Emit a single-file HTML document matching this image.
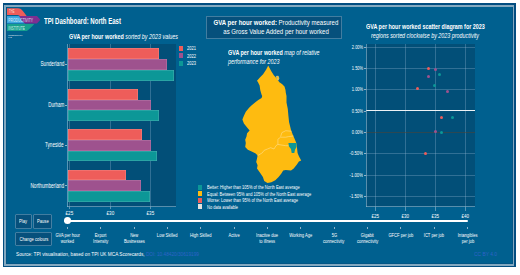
<!DOCTYPE html>
<html><head><meta charset="utf-8"><style>
html,body{margin:0;padding:0;width:520px;height:275px;overflow:hidden;background:#fff}
body{position:relative;font-family:"Liberation Sans",sans-serif}
div{position:absolute;box-sizing:border-box}
.t{white-space:nowrap}
</style></head><body>
<div style="left:3.00px;top:2.70px;width:513.00px;height:264.70px;background:#024d80;"></div>
<div style="left:4.00px;top:4.80px;width:510.00px;height:260.90px;background:#84a9c0;"></div>
<div style="left:5.90px;top:6.70px;width:506.80px;height:257.30px;background:#035685;"></div>
<div style="left:6.70px;top:7.40px;width:505.20px;height:255.90px;background:#00608f;"></div>
<svg style="position:absolute;left:0;top:0" width="60" height="45" viewBox="0 0 60 45">
<path d="M7 8.2 H18 C21.5 8.2 23.5 11.5 26.8 16.2 H20 C19 15.4 18 15.1 16.5 15.1 H7 Z" fill="#ef5d5a"/>
<rect x="7" y="16.1" width="18" height="7.3" fill="#3ea8e0"/>
<path d="M19 16.1 H37 L40.4 19.75 L37 23.4 H25.5 C23.5 23.4 21.5 20 19 16.1 Z" fill="#7d2f91"/>
<path d="M7 24 H34.2 C32 26.5 29.5 29.5 26.8 30.9 H7 Z" fill="#16a08e"/>
<text x="9" y="13.4" font-size="4.6" fill="#ffe3de" opacity="0.85" font-family="Liberation Sans" textLength="5.5" lengthAdjust="spacingAndGlyphs">THE</text>
<text x="8.3" y="21.7" font-size="4.6" fill="#eaf6ff" opacity="0.85" font-family="Liberation Sans" textLength="24.7" lengthAdjust="spacingAndGlyphs">PRODUCTIVITY</text>
<text x="8.3" y="29.5" font-size="4.6" fill="#e0fff6" opacity="0.85" font-family="Liberation Sans" textLength="16.7" lengthAdjust="spacingAndGlyphs">INSTITUTE</text>
<text x="8.3" y="35.8" font-size="2.0" fill="#ffffff" font-family="Liberation Sans" textLength="14.5" lengthAdjust="spacingAndGlyphs">PRODUCTIVITY</text>
<text x="8.3" y="38.4" font-size="1.7" fill="#ffffff" font-family="Liberation Sans" textLength="3.6" lengthAdjust="spacingAndGlyphs">LAB</text>
</svg>
<div class="t" style="left:44.30px;top:16.67px;font-size:9.012px;line-height:9.012px;color:#fff;transform:scaleX(0.6715);transform-origin:left top"><span style="font-weight:bold;font-style:normal;">TPI Dashboard: North East</span></div>
<div class="t" style="left:68.80px;top:33.10px;font-size:7.558px;line-height:7.558px;color:#fff;transform:scaleX(0.7142);transform-origin:left top"><span style="font-weight:bold;font-style:normal;">GVA per hour worked</span><span style="font-weight:normal;font-style:italic;"> sorted by 2023 values</span></div>
<div style="left:67.50px;top:44.00px;width:108.90px;height:162.80px;background:#024f78;"></div>
<div style="left:69.35px;top:44.00px;width:0.80px;height:162.80px;background:rgba(150,185,210,0.32);"></div>
<div style="left:109.50px;top:44.00px;width:0.80px;height:162.80px;background:rgba(150,185,210,0.32);"></div>
<div style="left:149.90px;top:44.00px;width:0.80px;height:162.80px;background:rgba(150,185,210,0.32);"></div>
<div style="left:68.00px;top:48.30px;width:91.10px;height:10.75px;background:#ee5d5a;box-shadow:inset 0 0 0 0.5px rgba(255,255,255,0.25);"></div>
<div style="left:68.00px;top:59.05px;width:98.80px;height:10.75px;background:#9e528e;box-shadow:inset 0 0 0 0.5px rgba(255,255,255,0.25);"></div>
<div style="left:68.00px;top:69.80px;width:105.80px;height:10.75px;background:#0c9797;box-shadow:inset 0 0 0 0.5px rgba(255,255,255,0.25);"></div>
<div style="left:64.60px;top:64.05px;width:2.90px;height:0.70px;background:#8fb2c9;"></div>
<div class="t" style="left:27.57px;top:61.37px;font-size:7.122px;line-height:7.122px;color:#fff;transform:scaleX(0.6587);transform-origin:right top"><span style="font-weight:normal;font-style:normal;">Sunderland</span></div>
<div style="left:68.00px;top:88.80px;width:69.50px;height:10.75px;background:#ee5d5a;box-shadow:inset 0 0 0 0.5px rgba(255,255,255,0.25);"></div>
<div style="left:68.00px;top:99.55px;width:83.00px;height:10.75px;background:#9e528e;box-shadow:inset 0 0 0 0.5px rgba(255,255,255,0.25);"></div>
<div style="left:68.00px;top:110.30px;width:91.00px;height:10.75px;background:#0c9797;box-shadow:inset 0 0 0 0.5px rgba(255,255,255,0.25);"></div>
<div style="left:64.60px;top:104.55px;width:2.90px;height:0.70px;background:#8fb2c9;"></div>
<div class="t" style="left:38.67px;top:101.87px;font-size:7.122px;line-height:7.122px;color:#fff;transform:scaleX(0.6316);transform-origin:right top"><span style="font-weight:normal;font-style:normal;">Durham</span></div>
<div style="left:68.00px;top:129.10px;width:73.70px;height:10.75px;background:#ee5d5a;box-shadow:inset 0 0 0 0.5px rgba(255,255,255,0.25);"></div>
<div style="left:68.00px;top:139.85px;width:82.80px;height:10.75px;background:#9e528e;box-shadow:inset 0 0 0 0.5px rgba(255,255,255,0.25);"></div>
<div style="left:68.00px;top:150.60px;width:88.90px;height:10.75px;background:#0c9797;box-shadow:inset 0 0 0 0.5px rgba(255,255,255,0.25);"></div>
<div style="left:64.60px;top:144.85px;width:2.90px;height:0.70px;background:#8fb2c9;"></div>
<div class="t" style="left:35.49px;top:142.17px;font-size:7.122px;line-height:7.122px;color:#fff;transform:scaleX(0.6490);transform-origin:right top"><span style="font-weight:normal;font-style:normal;">Tyneside</span></div>
<div style="left:68.00px;top:169.60px;width:58.00px;height:10.75px;background:#ee5d5a;box-shadow:inset 0 0 0 0.5px rgba(255,255,255,0.25);"></div>
<div style="left:68.00px;top:180.35px;width:72.90px;height:10.75px;background:#9e528e;box-shadow:inset 0 0 0 0.5px rgba(255,255,255,0.25);"></div>
<div style="left:68.00px;top:191.10px;width:81.80px;height:10.75px;background:#0c9797;box-shadow:inset 0 0 0 0.5px rgba(255,255,255,0.25);"></div>
<div style="left:64.60px;top:185.35px;width:2.90px;height:0.70px;background:#8fb2c9;"></div>
<div class="t" style="left:12.93px;top:182.67px;font-size:7.122px;line-height:7.122px;color:#fff;transform:scaleX(0.6579);transform-origin:right top"><span style="font-weight:normal;font-style:normal;">Northumberland</span></div>
<div style="left:67.00px;top:44.00px;width:1.00px;height:163.30px;background:rgba(160,195,215,0.55);"></div>
<div style="left:67.00px;top:206.30px;width:109.40px;height:1.00px;background:rgba(160,195,215,0.55);"></div>
<div style="left:69.40px;top:207.30px;width:0.70px;height:2.10px;background:rgba(160,195,215,0.55);"></div>
<div class="t" style="left:65.38px;top:211.37px;font-size:5.233px;line-height:5.233px;color:#fff;transform:scaleX(0.8820);transform-origin:center top"><span style="font-weight:normal;font-style:normal;">£25</span></div>
<div style="left:109.55px;top:207.30px;width:0.70px;height:2.10px;background:rgba(160,195,215,0.55);"></div>
<div class="t" style="left:105.53px;top:211.37px;font-size:5.233px;line-height:5.233px;color:#fff;transform:scaleX(0.8820);transform-origin:center top"><span style="font-weight:normal;font-style:normal;">£30</span></div>
<div style="left:149.95px;top:207.30px;width:0.70px;height:2.10px;background:rgba(160,195,215,0.55);"></div>
<div class="t" style="left:145.93px;top:211.37px;font-size:5.233px;line-height:5.233px;color:#fff;transform:scaleX(0.8820);transform-origin:center top"><span style="font-weight:normal;font-style:normal;">£35</span></div>
<div style="left:178.50px;top:45.70px;width:4.50px;height:5.00px;background:#ee5d5a;"></div>
<div class="t" style="left:187.20px;top:45.88px;font-size:5.814px;line-height:5.814px;color:#fff;transform:scaleX(0.6958);transform-origin:left top"><span style="font-weight:normal;font-style:normal;">2021</span></div>
<div style="left:178.50px;top:53.45px;width:4.50px;height:5.00px;background:#9e528e;"></div>
<div class="t" style="left:187.20px;top:53.63px;font-size:5.814px;line-height:5.814px;color:#fff;transform:scaleX(0.6958);transform-origin:left top"><span style="font-weight:normal;font-style:normal;">2022</span></div>
<div style="left:178.50px;top:61.20px;width:4.50px;height:5.00px;background:#0c9797;"></div>
<div class="t" style="left:187.20px;top:61.38px;font-size:5.814px;line-height:5.814px;color:#fff;transform:scaleX(0.6958);transform-origin:left top"><span style="font-weight:normal;font-style:normal;">2023</span></div>
<div style="left:206.20px;top:16.10px;width:136.30px;height:23.00px;background:#06507c;box-shadow:inset 0 0 0 1px rgba(140,180,205,0.45);"></div>
<div class="t" style="left:194.97px;top:19.36px;font-size:7.849px;line-height:7.849px;color:#fff;transform:scaleX(0.7716);transform-origin:center top"><span style="font-weight:bold;font-style:normal;">GVA per hour worked:</span><span style="font-weight:normal;font-style:normal;"> Productivity measured</span></div>
<div class="t" style="left:207.69px;top:28.36px;font-size:7.849px;line-height:7.849px;color:#fff;transform:scaleX(0.7755);transform-origin:center top"><span style="font-weight:normal;font-style:normal;">as Gross Value Added per hour worked</span></div>
<div class="t" style="left:228.00px;top:49.20px;font-size:7.558px;line-height:7.558px;color:#fff;transform:scaleX(0.7135);transform-origin:left top"><span style="font-weight:bold;font-style:normal;">GVA per hour worked</span><span style="font-weight:normal;font-style:italic;"> map of relative</span></div>
<div class="t" style="left:228.00px;top:57.70px;font-size:7.558px;line-height:7.558px;color:#fff;transform:scaleX(0.7126);transform-origin:left top"><span style="font-weight:normal;font-style:italic;">performance for 2023</span></div>
<svg style="position:absolute;left:0;top:0" width="520" height="275" viewBox="0 0 520 275">
<polygon points="268.2,65.6 269.0,67.0 271.3,71.2 273.8,75.2 275.9,77.6 277.5,79.8 279.4,82.3 282.0,83.9 284.5,86.4 285.5,90.0 285.8,92.8 286.5,96.0 286.5,102.6 287.8,109.1 288.4,115.7 289.1,122.2 290.4,127.5 291.0,130.0 293.0,135.2 295.0,139.8 296.3,143.1 296.9,147.0 297.6,152.9 298.9,156.2 301.2,160.4 298.9,161.6 296.9,164.6 293.7,168.5 291.0,170.6 285.8,169.9 283.2,170.6 281.2,173.8 278.6,177.0 275.3,180.3 271.4,182.3 267.5,183.0 264.2,181.0 262.9,177.0 260.2,173.1 257.0,168.5 257.6,165.2 256.2,162.0 257.0,158.5 257.6,155.6 255.7,153.6 251.7,151.6 247.8,149.7 245.2,147.0 245.8,143.1 245.2,139.8 246.5,136.6 247.1,133.3 249.6,130.5 246.5,126.8 243.9,123.5 242.4,119.6 243.9,115.7 245.8,111.7 249.1,107.8 251.7,105.2 255.7,101.9 258.3,99.9 261.6,98.0 262.2,96.0 261.6,94.8 260.3,90.2 259.6,85.4 258.0,82.3 257.0,80.8 260.1,77.3 263.1,74.2 266.2,69.6 267.5,67.0" fill="#febb10"/>
<polygon points="276.3,76.3 278.3,76.2 278.9,78.5 278.2,80.2 277,79" fill="#febb10" stroke="#ffe29a" stroke-width="0.5"/>
<polyline points="257.6,155.6 262.2,152.9 264.2,150.3 267.5,149 270.7,147.7 274,149 276,145.7 277.9,144.4 281.9,145.1 285.8,145.7 288.6,145.7" fill="none" stroke="#ffe29a" stroke-width="0.55"/>
<polyline points="280.6,136.6 281.9,132.6 285.8,130.7 291.5,131.3" fill="none" stroke="#ffe29a" stroke-width="0.55"/>
<polyline points="277.9,144.4 277.9,139.2 280.6,137.2 285.8,137.2 288.4,136.6 293.5,136" fill="none" stroke="#ffe29a" stroke-width="0.55"/>
<polygon points="288.4,143.1 296.4,143.1 296.5,147 295,149.7 294.3,152.9 291.7,152.9 291,149 289,146.4" fill="#0c9797"/>
</svg>
<div style="left:198.10px;top:184.90px;width:4.40px;height:4.80px;background:#0c9797;"></div>
<div class="t" style="left:206.90px;top:185.16px;font-size:5.959px;line-height:5.959px;color:#fff;transform:scaleX(0.6821);transform-origin:left top"><span style="font-weight:normal;font-style:normal;">Better: Higher than 105% of the North East average</span></div>
<div style="left:198.10px;top:191.35px;width:4.40px;height:4.80px;background:#febb10;"></div>
<div class="t" style="left:206.90px;top:191.61px;font-size:5.959px;line-height:5.959px;color:#fff;transform:scaleX(0.6819);transform-origin:left top"><span style="font-weight:normal;font-style:normal;">Equal: Between 95% and 105% of the North East average</span></div>
<div style="left:198.10px;top:197.80px;width:4.40px;height:4.80px;background:#ee5d5a;"></div>
<div class="t" style="left:206.90px;top:198.06px;font-size:5.959px;line-height:5.959px;color:#fff;transform:scaleX(0.6862);transform-origin:left top"><span style="font-weight:normal;font-style:normal;">Worse: Lower than 95% of the North East average</span></div>
<div style="left:198.10px;top:204.25px;width:4.40px;height:4.80px;background:#e6e2de;"></div>
<div class="t" style="left:206.90px;top:204.51px;font-size:5.959px;line-height:5.959px;color:#fff;transform:scaleX(0.6775);transform-origin:left top"><span style="font-weight:normal;font-style:normal;">No data available</span></div>
<div style="left:366.00px;top:44.00px;width:108.75px;height:162.90px;background:#024f78;"></div>
<div style="left:375.10px;top:44.00px;width:0.80px;height:162.90px;background:rgba(150,185,210,0.32);"></div>
<div style="left:405.10px;top:44.00px;width:0.80px;height:162.90px;background:rgba(150,185,210,0.32);"></div>
<div style="left:435.10px;top:44.00px;width:0.80px;height:162.90px;background:rgba(150,185,210,0.32);"></div>
<div style="left:465.10px;top:44.00px;width:0.80px;height:162.90px;background:rgba(150,185,210,0.32);"></div>
<div style="left:366.00px;top:46.60px;width:108.75px;height:0.80px;background:rgba(150,185,210,0.32);"></div>
<div style="left:363.50px;top:46.65px;width:2.50px;height:0.70px;background:#8fb2c9;"></div>
<div class="t" style="left:347.03px;top:44.60px;font-size:5.669px;line-height:5.669px;color:#fff;transform:scaleX(0.6968);transform-origin:right top"><span style="font-weight:normal;font-style:normal;">2.00%</span></div>
<div style="left:366.00px;top:67.93px;width:108.75px;height:0.80px;background:rgba(150,185,210,0.32);"></div>
<div style="left:363.50px;top:67.98px;width:2.50px;height:0.70px;background:#8fb2c9;"></div>
<div class="t" style="left:347.03px;top:65.93px;font-size:5.669px;line-height:5.669px;color:#fff;transform:scaleX(0.6968);transform-origin:right top"><span style="font-weight:normal;font-style:normal;">1.50%</span></div>
<div style="left:366.00px;top:89.27px;width:108.75px;height:0.80px;background:rgba(150,185,210,0.32);"></div>
<div style="left:363.50px;top:89.32px;width:2.50px;height:0.70px;background:#8fb2c9;"></div>
<div class="t" style="left:347.03px;top:87.27px;font-size:5.669px;line-height:5.669px;color:#fff;transform:scaleX(0.6968);transform-origin:right top"><span style="font-weight:normal;font-style:normal;">1.00%</span></div>
<div style="left:366.00px;top:109.75px;width:108.75px;height:1.40px;background:#eef2f5;"></div>
<div style="left:363.50px;top:110.65px;width:2.50px;height:0.70px;background:#8fb2c9;"></div>
<div class="t" style="left:347.03px;top:108.60px;font-size:5.669px;line-height:5.669px;color:#fff;transform:scaleX(0.6968);transform-origin:right top"><span style="font-weight:normal;font-style:normal;">0.50%</span></div>
<div style="left:366.00px;top:131.88px;width:108.75px;height:0.90px;background:rgba(85,65,45,0.5);"></div>
<div style="left:363.50px;top:131.98px;width:2.50px;height:0.70px;background:#8fb2c9;"></div>
<div class="t" style="left:347.03px;top:129.93px;font-size:5.669px;line-height:5.669px;color:#fff;transform:scaleX(0.6968);transform-origin:right top"><span style="font-weight:normal;font-style:normal;">0.00%</span></div>
<div style="left:366.00px;top:153.26px;width:108.75px;height:0.80px;background:rgba(150,185,210,0.32);"></div>
<div style="left:363.50px;top:153.31px;width:2.50px;height:0.70px;background:#8fb2c9;"></div>
<div class="t" style="left:345.14px;top:151.27px;font-size:5.669px;line-height:5.669px;color:#fff;transform:scaleX(0.7461);transform-origin:right top"><span style="font-weight:normal;font-style:normal;">-0.50%</span></div>
<div style="left:366.00px;top:174.60px;width:108.75px;height:0.80px;background:rgba(150,185,210,0.32);"></div>
<div style="left:363.50px;top:174.65px;width:2.50px;height:0.70px;background:#8fb2c9;"></div>
<div class="t" style="left:345.14px;top:172.60px;font-size:5.669px;line-height:5.669px;color:#fff;transform:scaleX(0.7461);transform-origin:right top"><span style="font-weight:normal;font-style:normal;">-1.00%</span></div>
<div style="left:366.00px;top:195.93px;width:108.75px;height:0.80px;background:rgba(150,185,210,0.32);"></div>
<div style="left:363.50px;top:195.98px;width:2.50px;height:0.70px;background:#8fb2c9;"></div>
<div class="t" style="left:345.14px;top:193.93px;font-size:5.669px;line-height:5.669px;color:#fff;transform:scaleX(0.7461);transform-origin:right top"><span style="font-weight:normal;font-style:normal;">-1.50%</span></div>
<div style="left:365.50px;top:44.00px;width:1.00px;height:163.40px;background:rgba(160,195,215,0.55);"></div>
<div style="left:365.50px;top:206.40px;width:109.25px;height:1.00px;background:rgba(160,195,215,0.55);"></div>
<div style="left:375.15px;top:207.40px;width:0.70px;height:3.70px;background:rgba(160,195,215,0.55);"></div>
<div class="t" style="left:371.13px;top:213.67px;font-size:5.233px;line-height:5.233px;color:#fff;transform:scaleX(0.8705);transform-origin:center top"><span style="font-weight:normal;font-style:normal;">£25</span></div>
<div style="left:405.15px;top:207.40px;width:0.70px;height:3.70px;background:rgba(160,195,215,0.55);"></div>
<div class="t" style="left:401.13px;top:213.67px;font-size:5.233px;line-height:5.233px;color:#fff;transform:scaleX(0.8705);transform-origin:center top"><span style="font-weight:normal;font-style:normal;">£30</span></div>
<div style="left:435.15px;top:207.40px;width:0.70px;height:3.70px;background:rgba(160,195,215,0.55);"></div>
<div class="t" style="left:431.13px;top:213.67px;font-size:5.233px;line-height:5.233px;color:#fff;transform:scaleX(0.8705);transform-origin:center top"><span style="font-weight:normal;font-style:normal;">£35</span></div>
<div style="left:465.15px;top:207.40px;width:0.70px;height:3.70px;background:rgba(160,195,215,0.55);"></div>
<div class="t" style="left:461.13px;top:213.67px;font-size:5.233px;line-height:5.233px;color:#fff;transform:scaleX(0.8705);transform-origin:center top"><span style="font-weight:normal;font-style:normal;">£40</span></div>
<div style="left:427.25px;top:66.60px;width:3px;height:3px;border-radius:50%;background:#ee5d5a"></div>
<div style="left:434.10px;top:67.90px;width:3px;height:3px;border-radius:50%;background:#9e528e"></div>
<div style="left:438.10px;top:72.90px;width:3px;height:3px;border-radius:50%;background:#0c9797"></div>
<div style="left:426.60px;top:75.10px;width:3px;height:3px;border-radius:50%;background:#9e528e"></div>
<div style="left:433.10px;top:83.50px;width:3px;height:3px;border-radius:50%;background:#0c9797"></div>
<div style="left:415.60px;top:87.00px;width:3px;height:3px;border-radius:50%;background:#ee5d5a"></div>
<div style="left:445.75px;top:90.30px;width:3px;height:3px;border-radius:50%;background:#9e528e"></div>
<div style="left:440.40px;top:116.25px;width:3px;height:3px;border-radius:50%;background:#ee5d5a"></div>
<div style="left:451.00px;top:116.25px;width:3px;height:3px;border-radius:50%;background:#0c9797"></div>
<div style="left:434.10px;top:130.25px;width:3px;height:3px;border-radius:50%;background:#9e528e"></div>
<div style="left:440.00px;top:131.10px;width:3px;height:3px;border-radius:50%;background:#0c9797"></div>
<div style="left:424.10px;top:151.60px;width:3px;height:3px;border-radius:50%;background:#ee5d5a"></div>
<div class="t" style="left:366.00px;top:23.20px;font-size:7.558px;line-height:7.558px;color:#fff;transform:scaleX(0.7154);transform-origin:left top"><span style="font-weight:bold;font-style:normal;">GVA per hour worked scatter diagram for 2023</span></div>
<div class="t" style="left:371.25px;top:31.60px;font-size:7.558px;line-height:7.558px;color:#fff;transform:scaleX(0.7134);transform-origin:left top"><span style="font-weight:normal;font-style:italic;">regions sorted clockwise by 2023 productivity</span></div>
<div style="left:64px;top:219.8px;width:404px;height:2.1px;background:#fff;border-radius:1px"></div>
<div style="left:63.6px;top:217.2px;width:7.2px;height:7.2px;border-radius:50%;background:#fff"></div>
<div style="left:67.15px;top:227.00px;width:0.70px;height:2.30px;background:#8fb2c9;"></div>
<div class="t" style="left:51.84px;top:233.17px;font-size:5.233px;line-height:5.233px;color:#fff;transform:scaleX(0.7836);transform-origin:center top"><span style="font-weight:normal;font-style:normal;">GVA per hour</span></div>
<div class="t" style="left:59.07px;top:239.07px;font-size:5.233px;line-height:5.233px;color:#fff;transform:scaleX(0.7836);transform-origin:center top"><span style="font-weight:normal;font-style:normal;">worked</span></div>
<div style="left:100.48px;top:227.00px;width:0.70px;height:2.30px;background:#8fb2c9;"></div>
<div class="t" style="left:93.27px;top:233.17px;font-size:5.233px;line-height:5.233px;color:#fff;transform:scaleX(0.7836);transform-origin:center top"><span style="font-weight:normal;font-style:normal;">Export</span></div>
<div class="t" style="left:91.09px;top:239.07px;font-size:5.233px;line-height:5.233px;color:#fff;transform:scaleX(0.7836);transform-origin:center top"><span style="font-weight:normal;font-style:normal;">Intensity</span></div>
<div style="left:133.82px;top:227.00px;width:0.70px;height:2.30px;background:#8fb2c9;"></div>
<div class="t" style="left:128.93px;top:233.17px;font-size:5.233px;line-height:5.233px;color:#fff;transform:scaleX(0.7836);transform-origin:center top"><span style="font-weight:normal;font-style:normal;">New</span></div>
<div class="t" style="left:120.79px;top:239.07px;font-size:5.233px;line-height:5.233px;color:#fff;transform:scaleX(0.7836);transform-origin:center top"><span style="font-weight:normal;font-style:normal;">Businesses</span></div>
<div style="left:167.15px;top:227.00px;width:0.70px;height:2.30px;background:#8fb2c9;"></div>
<div class="t" style="left:154.27px;top:233.17px;font-size:5.233px;line-height:5.233px;color:#fff;transform:scaleX(0.7836);transform-origin:center top"><span style="font-weight:normal;font-style:normal;">Low Skilled</span></div>
<div style="left:200.48px;top:227.00px;width:0.70px;height:2.30px;background:#8fb2c9;"></div>
<div class="t" style="left:187.02px;top:233.17px;font-size:5.233px;line-height:5.233px;color:#fff;transform:scaleX(0.7836);transform-origin:center top"><span style="font-weight:normal;font-style:normal;">High Skilled</span></div>
<div style="left:233.81px;top:227.00px;width:0.70px;height:2.30px;background:#8fb2c9;"></div>
<div class="t" style="left:227.04px;top:233.17px;font-size:5.233px;line-height:5.233px;color:#fff;transform:scaleX(0.7836);transform-origin:center top"><span style="font-weight:normal;font-style:normal;">Active</span></div>
<div style="left:267.15px;top:227.00px;width:0.70px;height:2.30px;background:#8fb2c9;"></div>
<div class="t" style="left:253.39px;top:233.17px;font-size:5.233px;line-height:5.233px;color:#fff;transform:scaleX(0.7836);transform-origin:center top"><span style="font-weight:normal;font-style:normal;">Inactive due</span></div>
<div class="t" style="left:257.32px;top:239.07px;font-size:5.233px;line-height:5.233px;color:#fff;transform:scaleX(0.7836);transform-origin:center top"><span style="font-weight:normal;font-style:normal;">to illness</span></div>
<div style="left:300.48px;top:227.00px;width:0.70px;height:2.30px;background:#8fb2c9;"></div>
<div class="t" style="left:286.04px;top:233.17px;font-size:5.233px;line-height:5.233px;color:#fff;transform:scaleX(0.7836);transform-origin:center top"><span style="font-weight:normal;font-style:normal;">Working Age</span></div>
<div style="left:333.81px;top:227.00px;width:0.70px;height:2.30px;background:#8fb2c9;"></div>
<div class="t" style="left:330.67px;top:233.17px;font-size:5.233px;line-height:5.233px;color:#fff;transform:scaleX(0.7836);transform-origin:center top"><span style="font-weight:normal;font-style:normal;">5G</span></div>
<div class="t" style="left:320.49px;top:239.07px;font-size:5.233px;line-height:5.233px;color:#fff;transform:scaleX(0.7836);transform-origin:center top"><span style="font-weight:normal;font-style:normal;">connectivity</span></div>
<div style="left:367.15px;top:227.00px;width:0.70px;height:2.30px;background:#8fb2c9;"></div>
<div class="t" style="left:359.21px;top:233.17px;font-size:5.233px;line-height:5.233px;color:#fff;transform:scaleX(0.7836);transform-origin:center top"><span style="font-weight:normal;font-style:normal;">Gigabit</span></div>
<div class="t" style="left:353.83px;top:239.07px;font-size:5.233px;line-height:5.233px;color:#fff;transform:scaleX(0.7836);transform-origin:center top"><span style="font-weight:normal;font-style:normal;">connectivity</span></div>
<div style="left:400.48px;top:227.00px;width:0.70px;height:2.30px;background:#8fb2c9;"></div>
<div class="t" style="left:384.98px;top:233.17px;font-size:5.233px;line-height:5.233px;color:#fff;transform:scaleX(0.7836);transform-origin:center top"><span style="font-weight:normal;font-style:normal;">GFCF per job</span></div>
<div style="left:433.81px;top:227.00px;width:0.70px;height:2.30px;background:#8fb2c9;"></div>
<div class="t" style="left:421.27px;top:233.17px;font-size:5.233px;line-height:5.233px;color:#fff;transform:scaleX(0.7836);transform-origin:center top"><span style="font-weight:normal;font-style:normal;">ICT per job</span></div>
<div style="left:467.15px;top:227.00px;width:0.70px;height:2.30px;background:#8fb2c9;"></div>
<div class="t" style="left:454.84px;top:233.17px;font-size:5.233px;line-height:5.233px;color:#fff;transform:scaleX(0.7836);transform-origin:center top"><span style="font-weight:normal;font-style:normal;">Intangibles</span></div>
<div class="t" style="left:459.50px;top:239.07px;font-size:5.233px;line-height:5.233px;color:#fff;transform:scaleX(0.7836);transform-origin:center top"><span style="font-weight:normal;font-style:normal;">per job</span></div>
<div style="left:15.00px;top:214.00px;width:16.50px;height:14.50px;background:#06507c;border-radius:2px;box-shadow:inset 0 0 0 0.8px rgba(140,180,205,0.6);"></div>
<div class="t" style="left:17.17px;top:218.36px;font-size:6.250px;line-height:6.250px;color:#fff;transform:scaleX(0.6580);transform-origin:center top"><span style="font-weight:normal;font-style:normal;">Play</span></div>
<div style="left:32.80px;top:214.00px;width:19.50px;height:14.50px;background:#06507c;border-radius:2px;box-shadow:inset 0 0 0 0.8px rgba(140,180,205,0.6);"></div>
<div class="t" style="left:33.69px;top:218.36px;font-size:6.250px;line-height:6.250px;color:#fff;transform:scaleX(0.6545);transform-origin:center top"><span style="font-weight:normal;font-style:normal;">Pause</span></div>
<div style="left:15.00px;top:232.20px;width:37.30px;height:14.30px;background:#06507c;border-radius:2px;box-shadow:inset 0 0 0 0.8px rgba(140,180,205,0.6);"></div>
<div class="t" style="left:11.76px;top:236.46px;font-size:6.250px;line-height:6.250px;color:#fff;transform:scaleX(0.6624);transform-origin:center top"><span style="font-weight:normal;font-style:normal;">Change colours</span></div>
<div class="t" style="left:15.80px;top:251.11px;font-size:6.250px;line-height:6.250px;color:#fff;transform:scaleX(0.7564);transform-origin:left top"><span style="font-weight:normal;font-style:normal;">Source: TPI visualisation, based on TPI UK MCA Scorecards, </span><span style="font-weight:normal;font-style:normal;color:#2f63c9;">DOI: 10.48420/30619199</span></div>
<div class="t" style="left:473.80px;top:251.11px;font-size:6.250px;line-height:6.250px;color:#fff;transform:scaleX(0.7786);transform-origin:left top"><span style="font-weight:normal;font-style:normal;color:#2f63c9;">CC BY 4.0</span></div>
</body></html>
